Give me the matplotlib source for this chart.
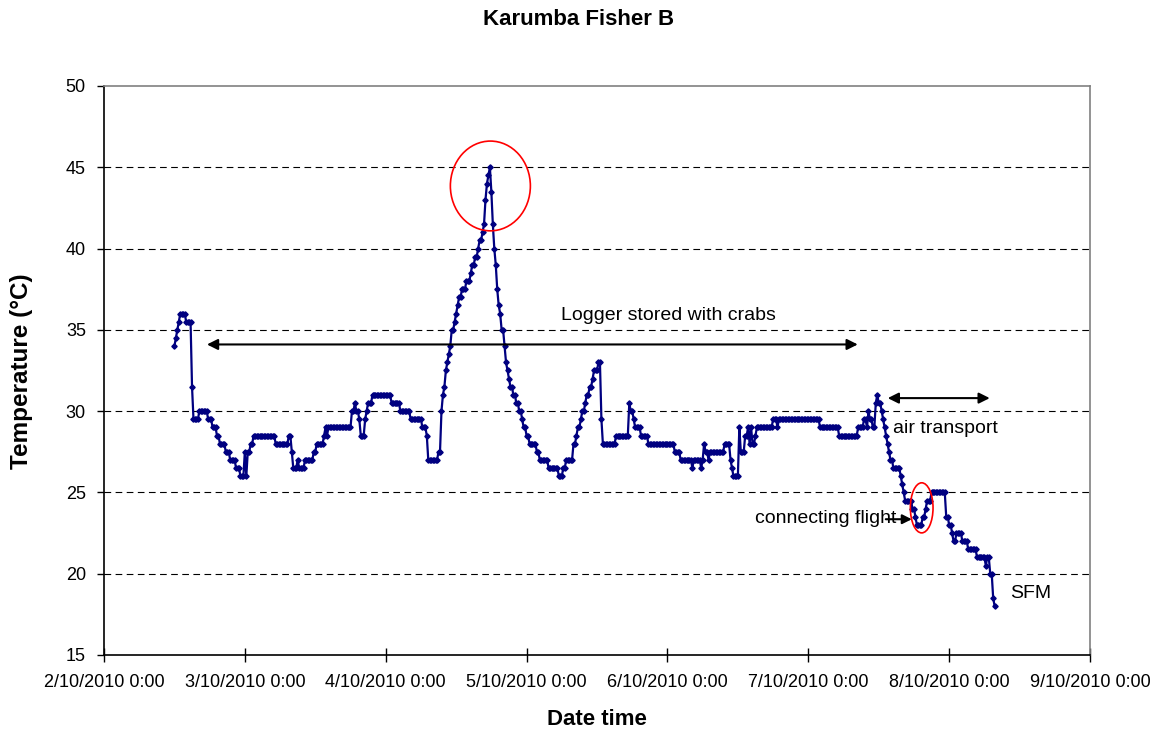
#python3

#import libraries
import numpy as np
import matplotlib
matplotlib.use('Agg')
import matplotlib.pyplot as plt
import matplotlib.dates as mdates
from matplotlib.patches import Ellipse
from matplotlib.ticker import FuncFormatter, MultipleLocator

plt.rcParams['font.family'] = ['Liberation Sans', 'DejaVu Sans']

#logger data (run length encoded: temperature, number of 15 min readings)
run_temps = [34.0, 34.5, 35.0, 35.5, 36.0, 35.5, 31.5, 29.5, 30.0, 29.5, 29.0, 28.5, 28.0, 27.5, 27.0,
             26.5, 26.0, 27.5, 26.0, 27.5, 28.0, 28.5, 28.0, 28.5, 27.5, 26.5, 27.0, 26.5, 27.0, 27.5,
             28.0, 28.5, 29.0, 28.5, 29.0, 30.0, 30.5, 30.0, 29.5, 28.5, 29.5, 30.0, 30.5, 31.0, 30.5,
             30.0, 29.5, 29.0, 28.5, 27.0, 27.5, 30.0, 31.0, 31.5, 32.5, 33.0, 33.5, 34.0, 35.0, 35.5,
             36.0, 36.5, 37.0, 37.5, 38.0, 38.5, 39.0, 39.5, 40.0, 40.5, 41.0, 41.5, 43.0, 44.0, 44.5,
             45.0, 43.5, 41.5, 40.0, 39.0, 37.5, 36.5, 36.0, 35.0, 34.0, 33.0, 32.5, 32.0, 31.5, 31.0,
             30.5, 30.0, 29.5, 29.0, 28.5, 28.0, 27.5, 27.0, 26.5, 26.0, 26.5, 27.0, 28.0, 28.5, 29.0,
             29.5, 30.0, 30.5, 31.0, 31.5, 32.0, 32.5, 33.0, 29.5, 28.0, 28.5, 30.5, 30.0, 29.5, 29.0,
             28.5, 28.0, 27.5, 27.0, 26.5, 27.0, 26.5, 27.0, 28.0, 27.5, 27.0, 27.5, 28.0, 27.0, 26.5,
             26.0, 29.0, 27.5, 28.5, 29.0, 28.0, 29.0, 28.0, 28.5, 29.0, 29.5, 29.0, 29.5, 29.0, 28.5,
             29.0, 29.5, 29.0, 30.0, 29.5, 29.0, 30.5, 31.0, 30.5, 30.0, 29.5, 29.0, 28.5, 28.0, 27.5,
             27.0, 26.5, 26.0, 25.5, 25.0, 24.5, 24.0, 23.5, 23.0, 23.5, 24.0, 24.5, 25.0, 23.5, 23.0,
             22.5, 22.0, 22.5, 22.0, 21.5, 21.0, 20.5, 21.0, 20.0, 18.5, 18.0]
run_counts = [1, 1, 1, 1, 4, 4, 1, 4, 6, 3, 3, 2, 4, 3, 4,
              3, 3, 1, 1, 2, 2, 15, 9, 2, 1, 3, 1, 4, 6, 2,
              5, 1, 1, 1, 16, 2, 1, 2, 1, 3, 1, 1, 3, 13, 6,
              7, 8, 3, 1, 7, 2, 1, 1, 1, 1, 1, 1, 1, 2, 1,
              1, 1, 2, 3, 3, 1, 2, 2, 1, 2, 1, 1, 1, 1, 1,
              1, 1, 1, 1, 1, 1, 1, 1, 2, 1, 1, 1, 1, 2, 2,
              2, 2, 1, 2, 2, 5, 2, 6, 7, 3, 2, 5, 2, 1, 2,
              1, 2, 1, 2, 2, 1, 3, 2, 1, 9, 9, 1, 2, 1, 4,
              5, 18, 4, 8, 1, 5, 1, 1, 1, 2, 1, 10, 4, 1, 1,
              4, 1, 3, 2, 1, 1, 1, 2, 1, 11, 3, 1, 28, 13, 13,
              4, 2, 1, 1, 2, 2, 1, 1, 2, 1, 1, 1, 1, 1, 1,
              2, 5, 1, 1, 1, 5, 2, 1, 4, 2, 1, 3, 10, 2, 2,
              1, 2, 4, 4, 6, 6, 1, 2, 2, 1, 1]

log_start = np.datetime64('2010-10-02T12:00')
log_step = np.timedelta64(15, 'm')

title = 'Karumba Fisher B'
xlab = 'Date time'
ylab = 'Temperature (°C)'

#expand readings
temps = np.repeat(run_temps, run_counts)
times = log_start + np.arange(len(temps))*log_step
xnum = mdates.date2num(times)

day0 = mdates.date2num(np.datetime64('2010-10-02T00:00'))

#figure
fig = plt.figure(figsize = (11.58, 7.31), dpi = 100)
ax = fig.add_axes([0.0898, 0.104, 0.8515, 0.7784])

#grid lines
for yy in range(20, 50, 5):
    ax.axhline(yy, color = 'black', lw = 0.8, ls = (0, (6, 4)), zorder = 1)

#plot readings
ax.plot(xnum, temps, color = '#000080', lw = 1.6, marker = 'D', markersize = 2.7, zorder = 3)

#axes
ax.set_xlim(day0, day0 + 7)
ax.set_ylim(15, 50)
ax.xaxis.set_major_locator(MultipleLocator(1))
def date_fmt(v, pos):
    d = mdates.num2date(v)
    return '%d/%d/%d %d:%02d' % (d.day, d.month, d.year, d.hour, d.minute)
ax.xaxis.set_major_formatter(FuncFormatter(date_fmt))
ax.yaxis.set_major_locator(MultipleLocator(5))
ax.tick_params(axis = 'x', direction = 'inout', length = 10, width = 1, labelsize = 13, pad = 9)
ax.tick_params(axis = 'y', direction = 'out', length = 5, width = 1, labelsize = 13, pad = 8)

for s in ['top', 'right']:
    ax.spines[s].set_color('#808080')
    ax.spines[s].set_linewidth(1.2)
for s in ['left', 'bottom']:
    ax.spines[s].set_color('black')
    ax.spines[s].set_linewidth(1.2)

ax.set_xlabel(xlab, fontsize = 16, fontweight = 'bold', labelpad = 13)
fig.text(22/1158, 1 - 371/731, ylab, rotation = 90, ha = 'center', va = 'center', fontsize = 17.5, fontweight = 'bold')
fig.text(0.5, 1 - 19.5/731, title, ha = 'center', va = 'center', fontsize = 16, fontweight = 'bold')

#red circles
ax.add_patch(Ellipse((day0 + 2.743, 43.85), 0.568, 5.52, fill = False, edgecolor = 'red', lw = 1.2, zorder = 4))
ax.add_patch(Ellipse((day0 + 5.805, 24.05), 0.161, 3.08, fill = False, edgecolor = 'red', lw = 1.2, zorder = 4))

#arrows and notes
arr = dict(arrowstyle = '<|-|>', color = 'black', lw = 1.5, mutation_scale = 16, shrinkA = 0, shrinkB = 0)
ax.annotate('', xy = (day0 + 0.731, 34.1), xytext = (day0 + 5.351, 34.1), arrowprops = arr)
ax.text(day0 + 4.01, 35.9, 'Logger stored with crabs', ha = 'center', va = 'center', fontsize = 14)

ax.annotate('', xy = (day0 + 5.564, 30.8), xytext = (day0 + 6.288, 30.8), arrowprops = arr)
ax.text(day0 + 5.60, 28.9, 'air transport', ha = 'left', va = 'center', fontsize = 14)

ax.text(day0 + 4.62, 23.4, 'connecting flight', ha = 'left', va = 'center', fontsize = 14)
ax.annotate('', xy = (day0 + 5.735, 23.35), xytext = (day0 + 5.55, 23.35),
            arrowprops = dict(arrowstyle = '-|>', color = 'black', lw = 1.5, mutation_scale = 14, shrinkA = 0, shrinkB = 0))

ax.text(day0 + 6.43, 18.8, 'SFM', ha = 'left', va = 'center', fontsize = 14)

plt.savefig('out.png', dpi = 100)
